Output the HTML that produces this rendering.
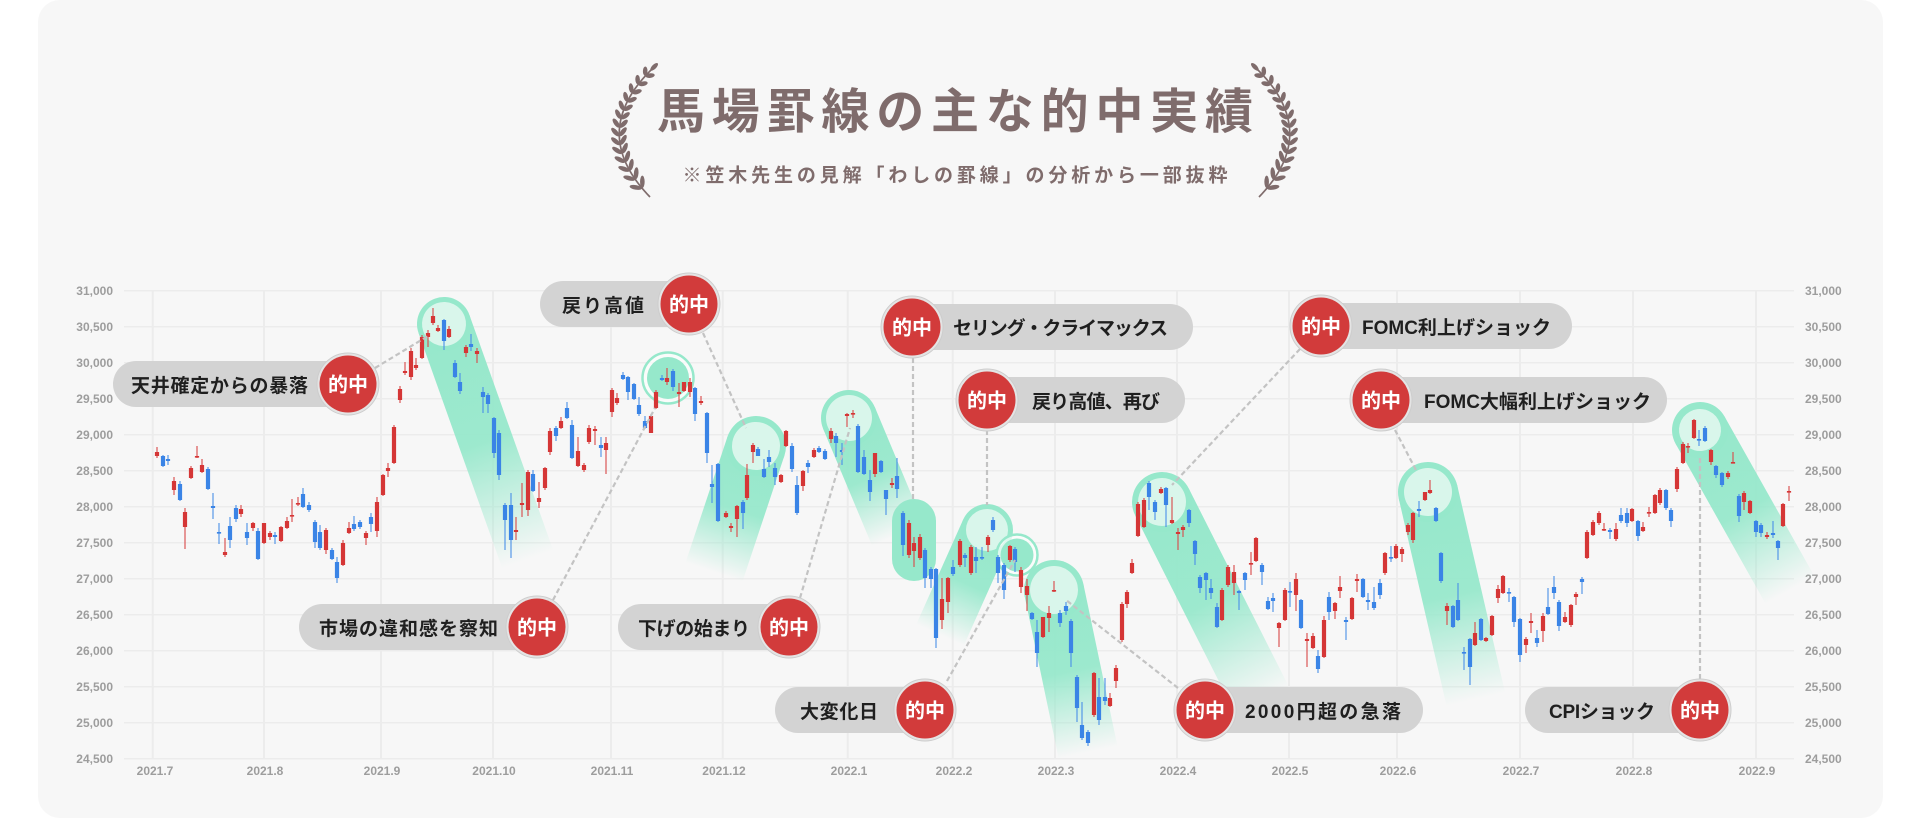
<!DOCTYPE html>
<html><head><meta charset="utf-8">
<style>
html,body{margin:0;padding:0;background:#fff;}
body{width:1920px;height:820px;overflow:hidden;}
svg{display:block;}
.ax{font-family:"Liberation Sans",sans-serif;font-size:12px;font-weight:bold;fill:#9d9d9d;}
.lb{font-family:"Liberation Sans","Noto Sans CJK JP",sans-serif;font-size:19px;font-weight:bold;fill:#1f1f1f;}
.hit{font-family:"Liberation Sans","Noto Sans CJK JP",sans-serif;font-size:20px;font-weight:bold;fill:#fff;}
.pill{fill:#d3d3d3;}
.ring{fill:#e4e4e4;stroke:#cdcdcd;stroke-width:1;}
.red{fill:#d23b3b;}
.dl{stroke:#c3c3c3;stroke-width:2.2;stroke-dasharray:5 3;fill:none;}
</style></head><body>
<svg id="s" width="1920" height="820" viewBox="0 0 1920 820" xmlns="http://www.w3.org/2000/svg">
<defs>
<linearGradient id="fade" x1="0" y1="0" x2="0" y2="1">
<stop offset="0" stop-color="#96e8cb" stop-opacity="1"/>
<stop offset="0.5" stop-color="#96e8cb" stop-opacity="0.93"/>
<stop offset="1" stop-color="#96e8cb" stop-opacity="0"/>
</linearGradient>
</defs>
<rect x="38" y="0" width="1845" height="818" rx="22" fill="#f7f7f7"/>

<!-- title -->
<g id="laurel" fill="#7f6c6c"></g>
<text x="955" y="128" text-anchor="middle" textLength="596" lengthAdjust="spacing" style="font-family:'Liberation Sans','Noto Sans CJK JP',sans-serif;font-size:48px;font-weight:bold;fill:#7f6c6c">馬場罫線の主な的中実績</text>
<text x="955" y="181.5" text-anchor="middle" textLength="545" lengthAdjust="spacing" style="font-family:'Liberation Sans','Noto Sans CJK JP',sans-serif;font-size:19px;font-weight:bold;fill:#7f6c6c">※笠木先生の見解「わしの罫線」の分析から一部抜粋</text>

<!-- grid -->
<g stroke="#ececec" stroke-width="1.5">
<line x1="124" y1="290.7" x2="1794" y2="290.7"/>
<line x1="124" y1="326.7" x2="1794" y2="326.7"/>
<line x1="124" y1="362.7" x2="1794" y2="362.7"/>
<line x1="124" y1="398.7" x2="1794" y2="398.7"/>
<line x1="124" y1="434.7" x2="1794" y2="434.7"/>
<line x1="124" y1="470.7" x2="1794" y2="470.7"/>
<line x1="124" y1="506.7" x2="1794" y2="506.7"/>
<line x1="124" y1="542.7" x2="1794" y2="542.7"/>
<line x1="124" y1="578.7" x2="1794" y2="578.7"/>
<line x1="124" y1="614.7" x2="1794" y2="614.7"/>
<line x1="124" y1="650.7" x2="1794" y2="650.7"/>
<line x1="124" y1="686.7" x2="1794" y2="686.7"/>
<line x1="124" y1="722.7" x2="1794" y2="722.7"/>
<line x1="124" y1="758.7" x2="1794" y2="758.7"/>
</g>
<g stroke="#ececec" stroke-width="2">
<line x1="152.7" y1="291" x2="152.7" y2="759"/>
<line x1="264" y1="291" x2="264" y2="759"/>
<line x1="381" y1="291" x2="381" y2="759"/>
<line x1="493" y1="291" x2="493" y2="759"/>
<line x1="611" y1="291" x2="611" y2="759"/>
<line x1="722.7" y1="291" x2="722.7" y2="759"/>
<line x1="847.7" y1="291" x2="847.7" y2="759"/>
<line x1="952.7" y1="291" x2="952.7" y2="759"/>
<line x1="1055" y1="291" x2="1055" y2="759"/>
<line x1="1177" y1="291" x2="1177" y2="759"/>
<line x1="1289" y1="291" x2="1289" y2="759"/>
<line x1="1397" y1="291" x2="1397" y2="759"/>
<line x1="1520" y1="291" x2="1520" y2="759"/>
<line x1="1633" y1="291" x2="1633" y2="759"/>
<line x1="1756" y1="291" x2="1756" y2="759"/>
</g>

<!-- y labels left -->
<g class="ax" text-anchor="end">
<text x="113" y="295">31,000</text>
<text x="113" y="331">30,500</text>
<text x="113" y="367">30,000</text>
<text x="113" y="403">29,500</text>
<text x="113" y="439">29,000</text>
<text x="113" y="475">28,500</text>
<text x="113" y="511">28,000</text>
<text x="113" y="547">27,500</text>
<text x="113" y="583">27,000</text>
<text x="113" y="619">26,500</text>
<text x="113" y="655">26,000</text>
<text x="113" y="691">25,500</text>
<text x="113" y="727">25,000</text>
<text x="113" y="763">24,500</text>
</g>
<g class="ax">
<text x="1805" y="295">31,000</text>
<text x="1805" y="331">30,500</text>
<text x="1805" y="367">30,000</text>
<text x="1805" y="403">29,500</text>
<text x="1805" y="439">29,000</text>
<text x="1805" y="475">28,500</text>
<text x="1805" y="511">28,000</text>
<text x="1805" y="547">27,500</text>
<text x="1805" y="583">27,000</text>
<text x="1805" y="619">26,500</text>
<text x="1805" y="655">26,000</text>
<text x="1805" y="691">25,500</text>
<text x="1805" y="727">25,000</text>
<text x="1805" y="763">24,500</text>
</g>
<g class="ax" text-anchor="middle">
<text x="155" y="775">2021.7</text>
<text x="265" y="775">2021.8</text>
<text x="382" y="775">2021.9</text>
<text x="494" y="775">2021.10</text>
<text x="612" y="775">2021.11</text>
<text x="724" y="775">2021.12</text>
<text x="849" y="775">2022.1</text>
<text x="954" y="775">2022.2</text>
<text x="1056" y="775">2022.3</text>
<text x="1178" y="775">2022.4</text>
<text x="1290" y="775">2022.5</text>
<text x="1398" y="775">2022.6</text>
<text x="1521" y="775">2022.7</text>
<text x="1634" y="775">2022.8</text>
<text x="1757" y="775">2022.9</text>
</g>

<!-- highlights -->
<g>
<g transform="translate(444 324) rotate(-19.59)"><rect x="-27" y="0" width="54" height="250" fill="url(#fade)"/><circle r="27" fill="#96e8cb"/><circle r="22" fill="#d9f6eb"/></g>
<g transform="translate(756 446) rotate(18.43)"><rect x="-30" y="0" width="60" height="133" fill="url(#fade)"/><circle r="30" fill="#96e8cb"/><circle r="24" fill="#d9f6eb"/></g>
<g transform="translate(849 418) rotate(-22.72)"><rect x="-28" y="0" width="56" height="127" fill="url(#fade)"/><circle r="28" fill="#96e8cb"/><circle r="23" fill="#d9f6eb"/></g>
<rect x="892" y="499" width="44" height="82" rx="22" fill="#96e8cb"/>
<g transform="translate(987 530) rotate(24.12)"><rect x="-26" y="0" width="52" height="115" fill="url(#fade)"/><circle r="26" fill="#96e8cb"/><circle r="21" fill="#d9f6eb"/></g>
<g transform="translate(1054 590) rotate(-11.85)"><rect x="-30" y="0" width="60" height="166" fill="url(#fade)"/><circle r="30" fill="#96e8cb"/><circle r="24" fill="#d9f6eb"/></g>
<g transform="translate(1162 502) rotate(-26.79)"><rect x="-30" y="0" width="60" height="222" fill="url(#fade)"/><circle r="30" fill="#96e8cb"/><circle r="24" fill="#d9f6eb"/></g>
<g transform="translate(1428 492) rotate(-12.99)"><rect x="-30" y="0" width="60" height="213" fill="url(#fade)"/><circle r="30" fill="#96e8cb"/><circle r="24" fill="#d9f6eb"/></g>
<g transform="translate(1700 430) rotate(-29.36)"><rect x="-28" y="0" width="56" height="184" fill="url(#fade)"/><circle r="28" fill="#96e8cb"/><circle r="21" fill="#d9f6eb"/></g>
<circle cx="668" cy="378" r="25.5" fill="#fbfdfc" fill-opacity="0.7" stroke="#96e8cb" stroke-width="2.5"/>
<circle cx="668" cy="378" r="21" fill="#96e8cb"/>
<circle cx="1017" cy="555" r="20.5" fill="#fbfdfc" fill-opacity="0.7" stroke="#96e8cb" stroke-width="2.5"/>
<circle cx="1017" cy="555" r="16.5" fill="#96e8cb"/>
</g>

<g id="candles"></g>

<!-- dashed connectors -->
<g class="dl">
<line x1="375" y1="368" x2="428" y2="336"/>
<line x1="553" y1="600" x2="655" y2="408"/>
<line x1="703" y1="333" x2="746" y2="428"/>
<line x1="800" y1="598" x2="850" y2="428"/>
<line x1="947" y1="681" x2="1015" y2="560"/>
<line x1="913" y1="358" x2="913" y2="500"/>
<line x1="987" y1="430" x2="987" y2="505"/>
<line x1="1178" y1="688" x2="1066" y2="600"/>
<line x1="1300" y1="349" x2="1172" y2="485"/>
<line x1="1395" y1="430" x2="1416" y2="470"/>
<line x1="1700" y1="679" x2="1700" y2="455"/>
</g>

<!-- pills -->
<g>
<rect class="pill" x="113" y="361" width="237" height="46" rx="23"/>
<text class="lb" x="131" y="392" textLength="177" lengthAdjust="spacing">天井確定からの暴落</text>
<circle class="ring" cx="348" cy="384" r="31"/><circle class="red" cx="348" cy="384" r="28.5"/>
<text class="hit" x="348" y="391.5" text-anchor="middle">的中</text>

<rect class="pill" x="299" y="604" width="241" height="46" rx="23"/>
<text class="lb" x="319" y="635" textLength="179" lengthAdjust="spacing">市場の違和感を察知</text>
<circle class="ring" cx="537" cy="627" r="31"/><circle class="red" cx="537" cy="627" r="28.5"/>
<text class="hit" x="537" y="634.5" text-anchor="middle">的中</text>

<rect class="pill" x="540" y="281" width="150" height="46" rx="23"/>
<text class="lb" x="562" y="312" textLength="82" lengthAdjust="spacing">戻り高値</text>
<circle class="ring" cx="689" cy="304" r="31"/><circle class="red" cx="689" cy="304" r="28.5"/>
<text class="hit" x="689" y="311.5" text-anchor="middle">的中</text>

<rect class="pill" x="618" y="604" width="172" height="46" rx="23"/>
<text class="lb" x="638" y="635" textLength="112" lengthAdjust="spacing">下げの始まり</text>
<circle class="ring" cx="789" cy="627" r="31"/><circle class="red" cx="789" cy="627" r="28.5"/>
<text class="hit" x="789" y="634.5" text-anchor="middle">的中</text>

<rect class="pill" x="775" y="687" width="150" height="46" rx="23"/>
<text class="lb" x="800" y="718" textLength="78" lengthAdjust="spacing">大変化日</text>
<circle class="ring" cx="925" cy="710" r="31"/><circle class="red" cx="925" cy="710" r="28.5"/>
<text class="hit" x="925" y="717.5" text-anchor="middle">的中</text>

<rect class="pill" x="910" y="304" width="283" height="46" rx="23"/>
<text class="lb" x="953" y="334.5" textLength="215" lengthAdjust="spacing">セリング・クライマックス</text>
<circle class="ring" cx="912" cy="327" r="31"/><circle class="red" cx="912" cy="327" r="28.5"/>
<text class="hit" x="912" y="334.5" text-anchor="middle">的中</text>

<rect class="pill" x="985" y="377" width="200" height="46" rx="23"/>
<text class="lb" x="1032" y="408" textLength="128" lengthAdjust="spacing">戻り高値、再び</text>
<circle class="ring" cx="987" cy="400" r="31"/><circle class="red" cx="987" cy="400" r="28.5"/>
<text class="hit" x="987" y="407.5" text-anchor="middle">的中</text>

<rect class="pill" x="1203" y="687" width="220" height="46" rx="23"/>
<text class="lb" x="1245" y="718" textLength="156" lengthAdjust="spacing">2000円超の急落</text>
<circle class="ring" cx="1205" cy="710" r="31"/><circle class="red" cx="1205" cy="710" r="28.5"/>
<text class="hit" x="1205" y="717.5" text-anchor="middle">的中</text>

<rect class="pill" x="1319" y="303" width="253" height="46" rx="23"/>
<text class="lb" x="1362" y="334" textLength="189" lengthAdjust="spacing">FOMC利上げショック</text>
<circle class="ring" cx="1321" cy="326" r="31"/><circle class="red" cx="1321" cy="326" r="28.5"/>
<text class="hit" x="1321" y="333.5" text-anchor="middle">的中</text>

<rect class="pill" x="1379" y="377" width="288" height="46" rx="23"/>
<text class="lb" x="1424" y="408" textLength="227" lengthAdjust="spacing">FOMC大幅利上げショック</text>
<circle class="ring" cx="1381" cy="400" r="31"/><circle class="red" cx="1381" cy="400" r="28.5"/>
<text class="hit" x="1381" y="407.5" text-anchor="middle">的中</text>

<rect class="pill" x="1525" y="687" width="177" height="46" rx="23"/>
<text class="lb" x="1549" y="718" textLength="106" lengthAdjust="spacing">CPIショック</text>
<circle class="ring" cx="1700" cy="710" r="31"/><circle class="red" cx="1700" cy="710" r="28.5"/>
<text class="hit" x="1700" y="717.5" text-anchor="middle">的中</text>
</g>
</svg>
<script>
(function(){
var NS='http://www.w3.org/2000/svg';
var D=[
[157,1,452,456,447,458],[163,0,456,466,455,467],[168,0,459,461,455,465],[174,1,481,490,477,495],[180,0,484,500,481,501],[185,1,512,527,508,549],[191,1,468,478,466,479],[197,1,456,457.5,446,458],[202,1,465,472,459,473],[208,0,469,489,467,490],[213,0,506,508,493,519],[219,0,532,533.5,523,544],[225,1,552,555,538,557],[230,0,526,540,517,548],[236,0,508,519,505,522],[241,1,509,514,505,517],[247,0,532,538,523,545],[253,1,523,528,522,531],[258,0,531,559,528,560],[264,1,523,543,523,544],[270,1,533,537,531,540],[275,0,535,537,532,544],[281,1,527,541,526,542],[287,1,521,528,517,529],[292,1,515,516.5,499,522],[298,1,503,504.5,497,506],[303,0,494,507,488,508],[309,0,505,510,502,512],[315,0,522,542,520,548],[320,0,532,548,525,550],[326,1,530,550,528,554],[332,0,550,559,548,560],[337,0,562,578,557,583],[343,1,543,565,540,566],[349,1,528,533,522,534],[354,0,524,529,516,531],[360,0,522,527,520,529],[366,1,533,538,531,545],[371,0,517,524,513,532],[377,1,502,531,497,537],[383,1,475,495,474,496],[388,1,468,471,463,477],[394,1,427,463,425,464],[400,1,389,400,386,403],[405,1,371,373,362,375],[411,1,351,377,348,380],[416,1,365,368,358,370],[422,1,337,358,335,359],[428,1,333,337,330,347],[433,1,316,323,308,325],[438,1,328,331,325,332],[444,0,320,341,319,350],[449,1,329,337,326,338],[455,0,363,377,360,378],[460,0,382,391,373,394],[466,1,347,353,345,357],[471,0,344,347,334,351],[477,1,351,354,348,363],[483,0,392,397,387,413],[488,0,395,404,393,413],[494,0,418,453,417,458],[499,0,433,475,430,480],
[505,0,505,520,503,550],[511,0,505,540,493,558],[516,1,530,532,517,540],[522,1,503,505,483,517],[528,1,472,510,470,516],[533,0,474,491,470,492],[539,1,498,502,482,508],[545,1,468,488,467,490],[550,1,431,452,428,455],[556,0,428,436,426,441],[561,1,421,428,417,429],[567,0,408,418,402,419],[572,0,425,458,420,459],[578,1,451,466,437,467],[584,1,465,470,463,472],[589,1,428,442,425,444],[595,1,429,431,426,445],[601,0,445,448,437,457],[606,1,443,450,437,474],[612,1,390,412,388,417],[617,1,398,403,393,405],[623,0,375,379,372,380],[628,0,377,392,376,400],[634,0,384,399,383,400],[639,0,405,414,397,416],[645,0,421,428,416,429],[651,1,416,433,414,433],[656,1,392,408,390,409],[662,0,378,380,375,381],[667,1,378,382,368,385],[673,0,371,387,369,391],[679,1,392,394,383,407],[684,1,382,391,382,392],[690,1,382,392,378,397],[695,0,388,414,387,421],[701,1,401,403,396,405],[707,0,413,453,412,463],[712,0,484,487,465,503],[718,0,464,521,463,522],[726,1,513,517,511,518],[731,1,526,528,523,532],[737,1,506,519,505,537],[743,0,502,513,500,529],[747,1,475,498,464,500],[753,1,445,452,443,463],[758,0,449,456,447,456],[764,0,469,477,459,478],[769,0,457,462,450,467],[775,0,468,477,463,485],[781,1,475,482,474,483],[786,1,431,446,430,447],[792,0,446,469,443,472],[797,0,485,513,476,515],[803,1,471,486,470,491],[808,0,463,467,460,473],[814,1,450,457,448,458],[819,0,448,452,446,453],[825,0,451,459,449,460],[831,1,431,439,428,443],[836,0,436,443,433,457],[842,0,450,452,443,465],[847,1,414,416,413,427],[853,1,413,414.5,410,418],[858,0,426,472,424,473],[864,0,457,474,450,475],[870,0,480,492,470,501],[875,1,453,474,453,477],[881,0,461,472,460,473],[886,0,490,499,490,515],[892,1,483,485,478,488],[897,0,476,489,458,498],[903,0,513,545,511,556],[909,1,523,555,520,558],[914,1,543,551,537,567],[920,1,537,558,534,560],[925,0,550,578,548,588],[931,0,569,579,567,588],[936,0,569,638,568,648],[942,1,599,620,578,629],[948,1,578,602,577,613],[953,0,567,574,560,576],
[960,1,541,565,539,567],[965,0,555,558,553,567],[971,1,547,573,545,575],[976,0,557,561,547,573],[982,0,557,558.5,547,560],[988,1,537,545,535,552],[993,0,520,530,517,532],[998,0,557,573,555,583],[1004,0,565,590,563,599],[1010,1,546,560,545,562],[1015,0,549,562,547,572],[1021,1,570,587,567,593],[1027,1,586,595,579,611],[1032,0,613,619,612,620],[1037,0,632,653,620,667],[1043,1,617,637,617,638],[1049,1,613,618,606,632],[1054,1,590,591.5,581,592],[1060,0,613,623,610,627],[1066,0,606,611,602,615],[1071,0,621,653,619,667],[1077,0,677,708,675,722],[1082,0,725,738,702,740],[1088,0,732,743,730,746],[1094,1,673,715,672,717],[1099,0,697,720,678,725],[1105,0,697,701,678,705],[1110,1,698,706,693,707],[1116,1,668,681,665,688],[1122,1,604,640,602,642],[1127,1,592,604,590,608],[1132,1,563,573,559,574],[1138,1,504,536,502,537],[1144,1,500,527,498,528],[1149,0,483,497,481,510],[1155,0,502,512,500,520],[1161,1,489,493,487,494],[1166,0,488,505,487,527],[1172,1,520,523,497,524],[1178,1,532,534,528,550],[1183,1,527,530,525,537],[1189,0,510,523,509,527],[1195,0,541,554,540,565],[1200,0,577,588,575,593],[1206,0,573,580,572,600],[1211,0,588,593,579,599],[1217,0,607,627,603,628],[1222,1,590,620,588,621],[1228,1,567,585,565,587],[1234,1,572,583,565,595],[1239,0,591,593,590,610],[1245,0,573,580,572,590],[1251,1,563,564.5,552,575],[1256,1,538,561,537,562],[1262,0,565,572,563,585],[1268,0,601,609,597,610],[1273,0,598,601,593,612],[1279,1,623,628,622,647],[1285,1,590,620,588,621],[1290,0,591,592.5,582,607],[1296,1,579,595,573,611],[1301,0,600,628,599,629],[1307,1,639,641,633,667],[1313,1,636,648,633,649],[1318,0,656,669,650,673],[1324,1,620,657,616,658],[1329,0,597,612,592,620],[1335,1,603,611,602,619],[1340,1,587,591,576,598],[1346,0,620,622,617,640],[1352,1,598,619,597,620],[1357,1,579,581,574,592],[1363,0,579,597,578,598],[1368,0,600,602,593,610],[1374,0,602,608,587,610],[1380,0,583,595,579,599],[1385,1,553,573,552,575],[1391,0,557,558.5,546,562],[1396,1,546,558,544,559],[1402,1,549,554,547,562],[1408,1,525,532,523,535],[1413,1,513,540,512,543],[1419,0,509,511,501,517],[1425,1,492,500,492,501],[1430,1,490,493,480,494],[1436,0,508,521,507,522],[1441,0,553,581,552,583],[1447,1,606,611,603,625],[1453,0,606,627,605,628],[1458,0,600,620,583,621],[1464,0,652,653.5,647,670],[1470,0,639,667,638,685],[1475,1,633,645,622,646],[1481,0,619,640,618,641],[1486,1,638,641,637,642],[1492,1,616,635,615,636],[1498,1,589,598,585,603],[1503,1,576,593,575,594],[1509,0,592,593.5,588,602],[1514,0,597,622,596,627],[1520,0,619,655,618,662],[1526,1,639,645,637,653],[1531,1,621,623,613,633],[1537,0,638,643,630,647],[1543,1,616,631,613,642],[1548,0,607,614,588,615],[1554,0,587,593,576,599],[1559,0,602,626,600,631],[1565,1,617,622,612,623],[1571,1,605,625,604,627],[1576,1,594,597,592,605],[1582,0,579,582,577,594],[1587,1,532,558,530,559],[1593,1,522,535,520,536],[1599,1,513,523,511,525],[1604,1,529,530.5,523,531],[1610,0,530,532,528,539],[1616,1,529,539,523,541],[1621,0,515,521,508,523],[1627,0,513,523,508,527],[1632,1,509,521,508,522],[1638,0,521,536,520,541],[1643,1,527,531,522,532],[1649,1,512,513.5,507,517],[1655,1,495,513,494,514],[1660,1,490,503,488,505],[1666,0,490,508,489,510],[1671,0,510,521,508,527],[1677,1,469,489,467,492],[1683,1,444,463,442,464],[1688,1,446,447.5,443,453],[1694,1,420,438,419,439],[1699,0,439,440.5,430,446],[1705,0,428,441,426,442],[1711,1,450,462,449,465],[1716,0,466,475,465,478],[1722,0,473,485,472,487],[1728,1,473,477,471,479],[1733,1,462,463.5,452,463],[1739,0,496,516,494,522],[1744,1,493,502,491,510],[1750,1,501,513,500,514],[1756,0,521,532,520,537],[1761,0,525,533,523,537],[1767,1,535,537,532,539],[1773,0,533,535,521,538],[1778,0,541,548,540,560],[1783,1,504,526,503,527],[1789,1,491,492.5,486,501]
];
var rb='',rw='',bb='',bw='';
for(var i=0;i<D.length;i++){
  var d=D[i],x=d[0],t=d[2],b=d[3],wt=Math.min(d[4],t),wb=Math.max(d[5],b);
  var h=Math.max(b-t,1.6);
  var body='M'+(x-2.1)+' '+t+'h4.2v'+h+'h-4.2z';
  var wick='M'+(x-0.55)+' '+wt+'h1.1V'+wb+'h-1.1z';
  if(d[1]){rb+=body;rw+=wick;}else{bb+=body;bw+=wick;}
}
var g=document.getElementById('candles');
function P(dd,f){var p=document.createElementNS(NS,'path');p.setAttribute('d',dd);p.setAttribute('fill',f);g.appendChild(p);}
P(rw,'#d94848');P(bw,'#4a8fe8');P(rb,'#d53636');P(bb,'#3a84e6');

// laurels
var lg=document.getElementById('laurel');
var P0=[651,70],C=[588,133],P2=[650,197];
function pt(t){return [(1-t)*(1-t)*P0[0]+2*(1-t)*t*C[0]+t*t*P2[0],(1-t)*(1-t)*P0[1]+2*(1-t)*t*C[1]+t*t*P2[1]];}
function der(t){return [2*(1-t)*(C[0]-P0[0])+2*t*(P2[0]-C[0]),2*(1-t)*(C[1]-P0[1])+2*t*(P2[1]-C[1])];}
function leaf(cx,cy,ang,rx,ry){var e=document.createElementNS(NS,'ellipse');e.setAttribute('rx',rx);e.setAttribute('ry',ry);e.setAttribute('transform','translate('+cx.toFixed(2)+' '+cy.toFixed(2)+') rotate('+ang.toFixed(2)+')');lg.appendChild(e);}
for(var m=0;m<2;m++){
  var sd='';
  for(var k=0;k<=40;k++){var q=pt(k/40);var qx=m?1909-q[0]:q[0];sd+=(k?'L':'M')+qx.toFixed(2)+' '+q[1].toFixed(2);}
  var sp=document.createElementNS(NS,'path');sp.setAttribute('d',sd);sp.setAttribute('fill','none');sp.setAttribute('stroke','#7f6c6c');sp.setAttribute('stroke-width','1.7');lg.appendChild(sp);
  for(var j=0;j<14;j++){
    var t=0.05+j*0.068;var p=pt(t),dv=der(t);var L=Math.hypot(dv[0],dv[1]);var ux=-dv[0]/L,uy=-dv[1]/L;
    var sz=4.6+j*0.12;
    [-40,40].forEach(function(a){
      var r=a*Math.PI/180;var dx=ux*Math.cos(r)-uy*Math.sin(r),dy=ux*Math.sin(r)+uy*Math.cos(r);
      var cx=p[0]+dx*(sz+0.6),cy=p[1]+dy*(sz+0.6);var ang=Math.atan2(dy,dx)*180/Math.PI;
      if(m){cx=1909-cx;ang=180-ang;}
      leaf(cx,cy,ang,sz,2.3);
    });
  }
  var p0=pt(0),d0=der(0),L0=Math.hypot(d0[0],d0[1]),tx=-d0[0]/L0,ty=-d0[1]/L0;
  var cx0=p0[0]+tx*4.5,cy0=p0[1]+ty*4.5,a0=Math.atan2(ty,tx)*180/Math.PI;
  if(m){cx0=1909-cx0;a0=180-a0;}
  leaf(cx0,cy0,a0,5,2.2);
}
})();
</script>
</body></html>
